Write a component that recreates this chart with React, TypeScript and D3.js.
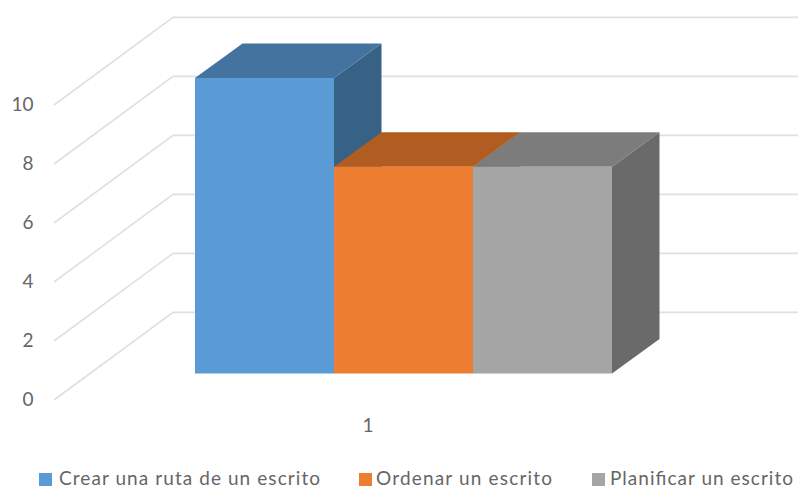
import React from "react";
import * as d3 from "d3";

const WIDTH = 798;
const HEIGHT = 489;

const seriesNames = ["Crear una ruta de un escrito", "Ordenar un escrito", "Planificar un escrito"];
const seriesValues = [10, 7, 7];
const frontColors = ["#5B9BD5", "#ED7D31", "#A5A5A5"];
const topColors = ["#4473A0", "#B15D22", "#7C7C7C"];
const sideColors = ["#376286", "#8F4B1B", "#6A6A6A"];
const yTicks = [0, 2, 4, 6, 8, 10];
const categoryLabels = ["1"];
const legendSwatchX = [39, 359, 592];
const legendTextX = [59, 376, 610];
const legendTextWidth = [261, 176, 183];

// Oblique projection: the floor recedes up and to the right.
const wallOffset = { dx: 119, dy: -87.6 };
const barDepth = { dx: 47.5, dy: -34.5 };

const FONT = "Lato, 'Open Sans', sans-serif";
const TEXT = "#666666";
const GRID = "#e0e0e0";

const axisY = d3.scaleLinear().domain([0, 10]).range([400, 105]);
const barY = d3.scaleLinear().domain([0, 10]).range([373.5, 78]);
const barX = d3.scaleBand<number>().domain(d3.range(seriesValues.length)).range([195, 612]);
const wallRight = WIDTH;
const line = d3.line();

type P = [number, number];
const poly = (pts: P[]) => line(pts) + "Z";

export default function App() {
  return (
    <svg
      width={WIDTH}
      height={HEIGHT}
      viewBox={`0 0 ${WIDTH} ${HEIGHT}`}
      style={{ position: "fixed", left: 0, top: 0, display: "block", background: "#fff" }}
    >
      {/* gridlines on the side and back walls */}
      <g fill="none" stroke={GRID} strokeWidth={1.6}>
        {yTicks.map((t) => {
          const x0 = 54;
          const y0 = axisY(t);
          const pts: P[] = [
            [x0, y0],
            [x0 + wallOffset.dx, y0 + wallOffset.dy],
            [wallRight, y0 + wallOffset.dy],
          ];
          return <path key={t} d={line(pts) ?? ""} />;
        })}
      </g>

      {/* value axis labels */}
      <g fontFamily={FONT} fontSize={19} fill={TEXT} textAnchor="end">
        {yTicks.map((t) => (
          <text key={t} x={33.5} y={axisY(t) + 5.5}>
            {t}
          </text>
        ))}
      </g>

      {/* bars, painted left to right so later faces cover earlier ones */}
      {seriesValues.map((v, i) => {
        const x0 = barX(i) as number;
        const x1 = x0 + barX.bandwidth();
        const yTop = barY(v);
        const yBase = barY(0);
        const { dx, dy } = barDepth;
        return (
          <g key={seriesNames[i]}>
            <path
              d={poly([[x1, yTop], [x1 + dx, yTop + dy], [x1 + dx, yBase + dy], [x1, yBase]])}
              fill={sideColors[i]}
            />
            <path
              d={poly([[x0, yTop], [x0 + dx, yTop + dy], [x1 + dx, yTop + dy], [x1, yTop]])}
              fill={topColors[i]}
            />
            <rect x={x0} y={yTop} width={x1 - x0} height={yBase - yTop} fill={frontColors[i]} />
          </g>
        );
      })}

      {/* category label */}
      <text x={368} y={432} fontFamily={FONT} fontSize={19} fill={TEXT} textAnchor="middle">
        {categoryLabels[0]}
      </text>

      {/* legend */}
      <g fontFamily={FONT} fontSize={19} fill={TEXT}>
        {seriesNames.map((name, i) => (
          <g key={name}>
            <rect x={legendSwatchX[i]} y={473} width={13} height={13} fill={frontColors[i]} />
            <text x={legendTextX[i]} y={485} textLength={legendTextWidth[i]} lengthAdjust="spacing">
              {name}
            </text>
          </g>
        ))}
      </g>
    </svg>
  );
}
